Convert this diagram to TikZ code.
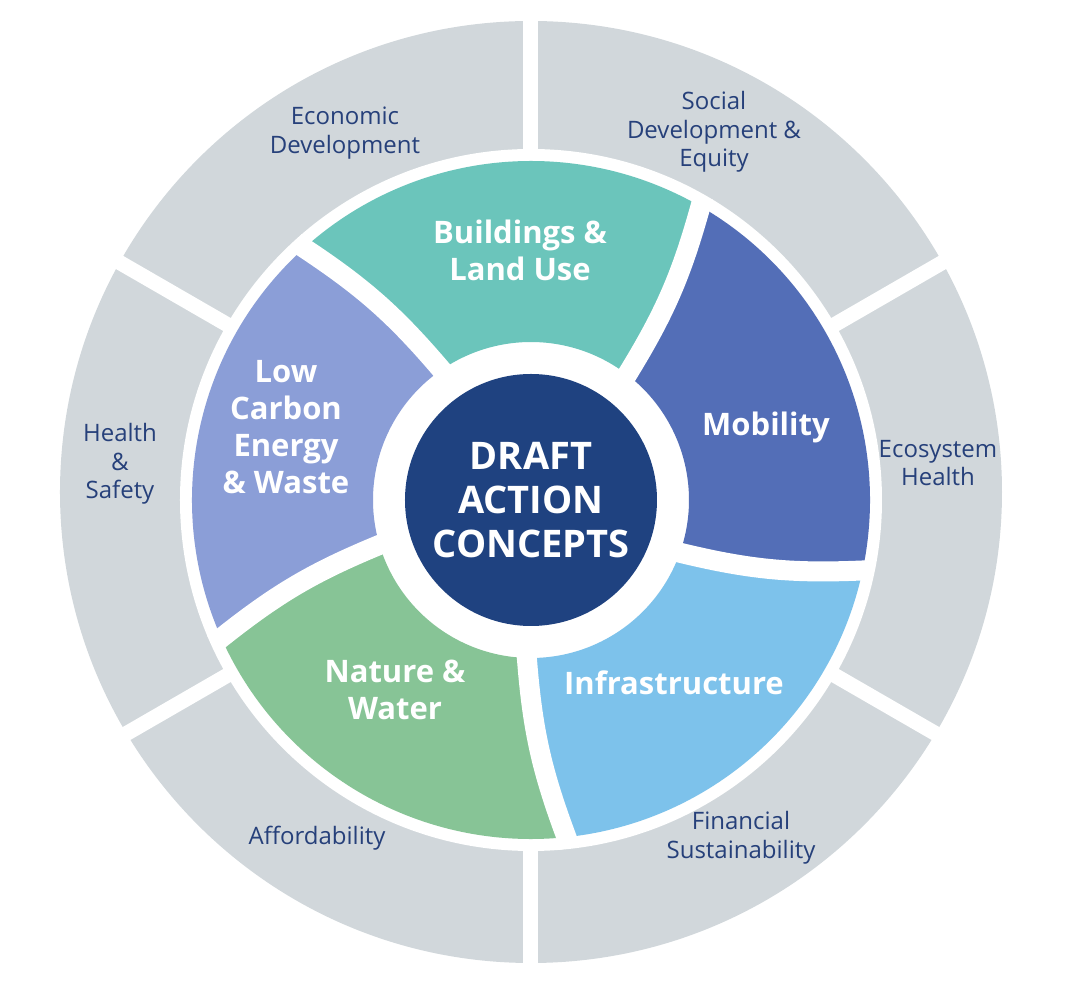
\documentclass[tikz,border=0pt]{standalone}
\usepackage{fontspec}
\setmainfont{Open Sans}
\definecolor{ringgray}{RGB}{209,215,219}
\definecolor{bldcol}{RGB}{107,197,187}
\definecolor{mobcol}{RGB}{83,110,183}
\definecolor{infcol}{RGB}{125,194,235}
\definecolor{natcol}{RGB}{135,196,150}
\definecolor{lcecol}{RGB}{139,158,215}
\definecolor{corecol}{RGB}{31,66,128}
\definecolor{labcol}{RGB}{38,64,122}
\tikzset{
  outer label/.style={text=labcol,align=center,font=\fontsize{24}{28.5}\selectfont},
  inner label/.style={text=white,align=center,font=\bfseries\fontsize{31}{37}\selectfont},
}
\begin{document}
\begin{tikzpicture}[x=1pt,y=1pt]
  \useasboundingbox (-531,-484) rectangle (549,500);

  % outer ring of six
  \fill[ringgray] (0,8) circle (471);
  \foreach \a in {30,90,...,330}
    \draw[white,line width=15pt] (0,0) -- (\a:480);
  \fill[white] (0,0) circle (351);

  % the five swirl pieces
  \foreach \col [count=\j from 0] in {bldcol,lcecol,natcol,infcol,mobcol} {
    \pgfmathsetmacro{\ia}{52.5+72*\j}
    \pgfmathsetmacro{\ib}{124.5+72*\j}
    \pgfmathsetmacro{\oa}{60+72*\j}
    \pgfmathsetmacro{\ob}{132+72*\j}
    \fill[\col] (\ia:158) to[bend right=8] (\oa:339)
      arc[start angle=\oa,end angle=\ob,radius=339]
      to[bend left=8] (\ib:158)
      arc[start angle=\ib,end angle=\ia,radius=158] -- cycle;
  }
  \foreach \j in {0,...,4}
    \draw[white,line width=20pt,line cap=rect] ({52.5+72*\j}:158) to[bend right=8] ({60+72*\j}:339);

  \path (0,0) node[circle,fill=corecol,minimum size=252pt,inner sep=0pt,text=white,align=center,
    font=\bfseries\fontsize{38}{44}\selectfont] (core) {DRAFT\\ACTION\\CONCEPTS};

  \path (-11,250) node[inner label] (bld) {Buildings \&\\Land Use};
  \path (235,73) node[inner label] (mob) {Mobility};
  \path (143,-183) node[inner label] (inf) {Infrastructure};
  \path (-136,-190) node[inner label] (nat) {Nature \&\\Water};
  \path (-245,73) node[inner label] (lce) {Low\\Carbon\\Energy\\\& Waste};

  \path (-186,367) node[outer label] (eco) {Economic\\Development};
  \path (183,368) node[outer label] (soc) {Social\\Development \&\\Equity};
  \path (407,37) node[outer label] (ecs) {Ecosystem\\Health};
  \path (210,-338) node[outer label] (fin) {Financial\\Sustainability};
  \path (-214,-338) node[outer label] (aff) {Affordability};
  \path (-411,36) node[outer label] (hs) {Health\\\&\\Safety};
\end{tikzpicture}
\end{document}
